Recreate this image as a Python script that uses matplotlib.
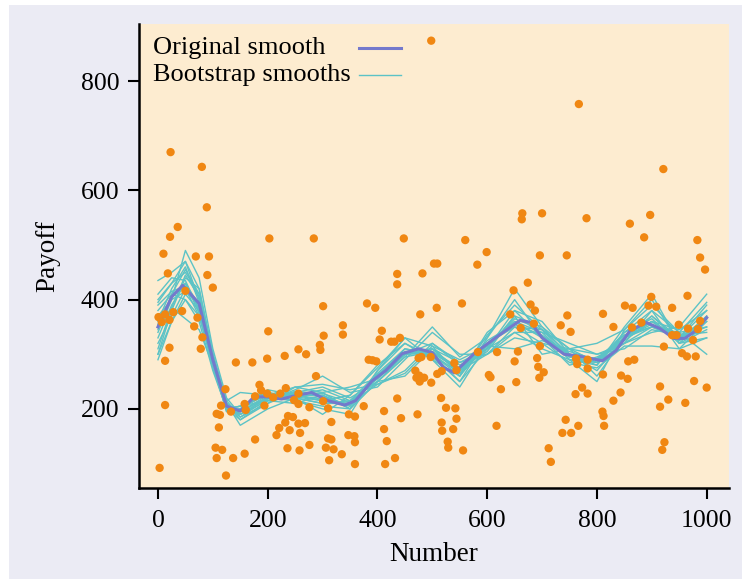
import numpy as np
import matplotlib
matplotlib.use("Agg")
import matplotlib.pyplot as plt
from matplotlib.patches import Rectangle
from matplotlib.lines import Line2D

# scatter data (Number, Payoff)
number = [23, 80, 89, 36, 22, 203, 10, 69, 93,
          18, 90, 100, 50, 1, 13, 7, 21, 28, 44, 72, 66, 81, 78, 21, 13, 201, 142, 172, 199, 231,
          123, 115, 107, 113, 111, 133, 158, 160, 177, 185, 188, 199, 210, 223, 233, 194, 13, 3,
          105, 117, 107, 137, 158, 124, 177, 221, 216, 232, 237, 236,
          284, 448, 498,
          436, 482, 436, 301, 381, 396, 478, 337, 337, 302, 295, 296, 256, 270, 408, 404, 425, 431,
          441, 384, 391, 398, 475, 480, 497, 469, 476, 471, 485, 477, 498, 288, 256, 248, 256, 276,
          301, 310, 375, 436, 246, 256, 268, 240, 259, 316, 348, 359, 412, 443, 473, 412, 417, 347,
          358, 359, 310, 316, 276, 306, 320, 258, 335, 312, 359, 414, 432, 503,
          767, 664, 663, 700, 560, 599, 509, 582, 696, 745,
          921, 781, 860, 897, 886, 983, 988, 997,
          508, 554, 648, 674, 679, 687, 642, 661, 685, 746, 734, 752, 696, 540, 544, 509, 517, 583,
          618, 656, 650, 691, 693, 703, 695, 603, 606, 653, 625, 762, 764, 761, 516, 525, 542, 544,
          517, 518, 538, 617, 528, 529, 556, 743, 737, 753, 766, 712, 716,
          965, 899, 851, 865, 894, 908, 937, 811, 830, 864, 881, 949, 966, 988, 984, 937, 945, 975,
          922, 955, 964, 980, 783, 783, 857, 868, 811, 844, 856, 773, 783, 843, 830, 915, 977, 1000,
          930, 915, 961, 810, 812, 813, 923, 919]
payoff = [670, 643, 569, 533, 515, 512, 484, 479, 479,
          448, 445, 422, 416, 368, 373, 359, 363, 377, 379, 367, 351, 331, 310, 312, 288, 342, 285, 285, 292, 297,
          236, 206, 191, 189, 166, 195, 209, 198, 223, 244, 234, 228, 221, 228, 238, 206, 207, 92,
          129, 125, 110, 110, 118, 78, 144, 165, 152, 175, 187, 128,
          512, 512, 874,
          447, 448, 428, 388, 393, 385, 373, 353, 336, 334, 317, 308, 309, 300, 343, 327, 323, 323,
          330, 290, 289, 287, 293, 295, 295, 270, 261, 257, 257, 250, 248, 260, 228, 216, 209, 203,
          214, 201, 205, 219, 185, 173, 174, 161, 156, 176, 190, 186, 196, 183, 190, 163, 141, 152,
          150, 139, 146, 144, 134, 129, 126, 124, 117, 106, 99, 99, 110, 466,
          758, 558, 547, 558, 509, 487, 466, 464, 481, 481,
          639, 549, 539, 555, 514, 509, 477, 455,
          385, 393, 417, 431, 391, 380, 373, 348, 356, 371, 353, 341, 315, 284, 271, 264, 269, 304,
          304, 305, 287, 293, 277, 267, 257, 262, 258, 249, 236, 292, 282, 227, 220, 202, 201, 182,
          175, 160, 163, 169, 140, 129, 124, 180, 156, 156, 169, 128, 103,
          407, 405, 389, 385, 389, 387, 385, 374, 350, 349, 358, 354, 347, 361, 346, 335, 335, 326,
          314, 302, 296, 296, 290, 274, 287, 290, 263, 261, 255, 239, 228, 230, 215, 241, 251, 239,
          217, 204, 211, 195, 187, 169, 139, 125]

# original smooth
smooth_x = [0, 25, 45, 75, 100, 125, 150, 175, 200, 225, 250, 280, 310, 340, 360, 390, 415, 445,
            475, 500, 520, 540, 575, 615, 660, 680, 700, 740, 765, 810, 835, 860, 890, 915, 940,
            960, 980, 1000]
smooth_y = [350, 405, 426, 393, 290, 205, 196, 222, 222, 218, 224, 230, 215, 207, 215, 251, 270, 301,
            310, 303, 276, 266, 300, 330, 362, 358, 330, 300, 297, 288, 307, 343, 358, 347, 329,
            329, 343, 367]

# bootstrap smooths
boot_x = [0, 25, 50, 75, 100, 125, 150, 200, 250, 300, 350, 400, 450, 500, 550, 600, 650, 700,
          750, 800, 850, 900, 950, 1000]
boot_1 = [300, 380, 440, 420, 300, 200, 180, 210, 230, 240, 220, 250, 300, 320, 280, 310, 380, 360, 300, 270, 330, 370, 330, 390]
boot_2 = [435, 450, 470, 400, 280, 210, 195, 225, 215, 200, 190, 270, 320, 290, 260, 320, 350, 320, 310, 300, 320, 350, 340, 350]
boot_3 = [340, 400, 490, 440, 310, 220, 190, 215, 235, 260, 230, 240, 290, 340, 300, 300, 340, 340, 290, 280, 350, 410, 320, 330]
boot_4 = [380, 410, 400, 360, 270, 200, 205, 230, 220, 210, 215, 265, 310, 300, 250, 330, 400, 330, 280, 295, 320, 340, 350, 410]
boot_5 = [290, 360, 410, 380, 300, 215, 185, 210, 240, 230, 200, 250, 260, 310, 285, 310, 370, 300, 310, 285, 340, 380, 310, 360]
boot_6 = [400, 430, 450, 410, 285, 195, 200, 235, 225, 215, 225, 275, 330, 290, 240, 320, 360, 340, 320, 300, 310, 345, 335, 340]
boot_7 = [330, 390, 430, 375, 290, 210, 170, 200, 220, 230, 240, 255, 300, 310, 270, 300, 350, 345, 290, 250, 345, 400, 320, 370]
boot_8 = [360, 420, 460, 395, 295, 205, 195, 220, 230, 225, 205, 260, 310, 300, 260, 340, 380, 330, 300, 290, 325, 360, 345, 380]
boot_9 = [350, 385, 365, 345, 280, 200, 205, 225, 220, 210, 210, 245, 265, 315, 290, 315, 310, 325, 305, 290, 335, 350, 330, 350]
boot_10 = [310, 385, 445, 405, 300, 210, 180, 215, 225, 235, 215, 250, 295, 305, 275, 305, 370, 350, 295, 285, 330, 370, 325, 360]
boot_11 = [390, 415, 425, 385, 285, 200, 200, 228, 222, 215, 210, 262, 305, 300, 265, 325, 355, 335, 300, 290, 330, 355, 330, 365]
boot_12 = [370, 400, 415, 390, 290, 205, 190, 220, 228, 222, 205, 258, 300, 305, 270, 315, 360, 330, 295, 292, 335, 360, 325, 370]
boot_13 = [320, 370, 420, 370, 280, 195, 200, 230, 220, 190, 225, 280, 320, 295, 250, 310, 340, 310, 290, 285, 320, 380, 340, 300]
boot_14 = [410, 440, 435, 380, 275, 200, 205, 215, 210, 225, 200, 250, 295, 350, 295, 330, 420, 350, 310, 260, 330, 360, 330, 380]
boot_15 = [345, 410, 455, 410, 300, 205, 185, 218, 232, 228, 212, 255, 305, 310, 265, 312, 365, 345, 300, 280, 340, 365, 320, 345]
boot_16 = [355, 405, 430, 390, 292, 208, 195, 222, 225, 218, 208, 262, 300, 302, 272, 318, 355, 333, 298, 290, 330, 350, 330, 365]
boot_17 = [300, 360, 400, 370, 285, 215, 230, 225, 240, 245, 235, 245, 270, 320, 285, 300, 330, 320, 285, 275, 315, 315, 310, 330]
boot_18 = [395, 430, 470, 420, 300, 200, 190, 220, 215, 205, 200, 270, 330, 315, 260, 335, 390, 345, 310, 320, 345, 390, 340, 395]
boots = [boot_1, boot_2, boot_3, boot_4, boot_5, boot_6, boot_7, boot_8, boot_9,
         boot_10, boot_11, boot_12, boot_13, boot_14, boot_15, boot_16, boot_17, boot_18]

plt.rcParams['font.family'] = ['Liberation Serif', 'DejaVu Serif']

fig = plt.figure(figsize=(7.42, 5.79), dpi=100)
fig.patch.set_facecolor('white')
fig.patches.append(Rectangle((9 / 742, 0), 1, 1 - 5 / 579, transform=fig.transFigure,
                             facecolor='#ebebf4', edgecolor='none', zorder=-10))
ax = fig.add_axes([0.187, 0.157, 0.795, 0.802])
ax.set_facecolor('#fdecd0')

boot_col = '#5cc3c6'
orig_col = '#7479cc'
for b in boots:
    ax.plot(boot_x, b, color=boot_col, lw=1.0, zorder=2)
ax.plot(smooth_x, smooth_y, color=orig_col, lw=2.2, zorder=3)
ax.scatter(number, payoff, s=36, color='#f08712', edgecolors='none', zorder=4)

ax.set_xlim(-35, 1040)
ax.set_ylim(55, 905)
ax.set_xticks([0, 200, 400, 600, 800, 1000])
ax.set_yticks([200, 400, 600, 800])
for s in ['top', 'right']:
    ax.spines[s].set_visible(False)
for s in ['left', 'bottom']:
    ax.spines[s].set_linewidth(1.8)
ax.tick_params(length=8, width=1.5, labelsize=18.5)
ax.tick_params(axis='x', pad=8)
ax.tick_params(axis='y', pad=6)
ax.set_xlabel('Number', fontsize=19.5, labelpad=7)
ax.set_ylabel('Payoff', fontsize=19.5, labelpad=15)

# legend: labels left aligned, line samples on the right
legend_items = [('Original smooth', orig_col, 2.2), ('Bootstrap smooths', boot_col, 1.0)]
for i, (lab, col, lw) in enumerate(legend_items):
    yy = 0.947 - i * 0.058
    ax.text(0.024, yy, lab, transform=ax.transAxes, va='center', ha='left',
            fontsize=19, zorder=5)
    ax.add_line(Line2D([0.373, 0.444], [yy, yy], transform=ax.transAxes,
                       color=col, lw=lw, zorder=5))

fig.savefig('out.png', dpi=100, facecolor=fig.get_facecolor())
